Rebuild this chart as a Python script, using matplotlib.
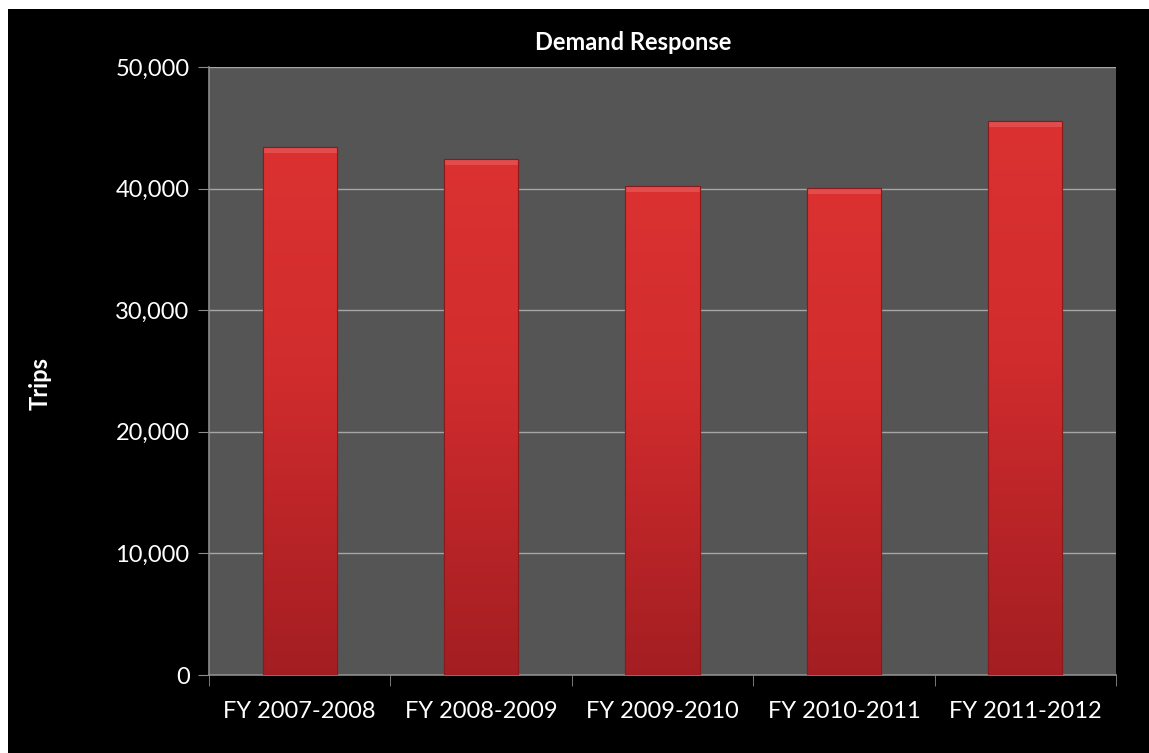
import matplotlib.pyplot as plt
import numpy as np
from matplotlib.patches import Rectangle
from matplotlib.ticker import FuncFormatter, FixedLocator

years = ['FY 2007-2008', 'FY 2008-2009', 'FY 2009-2010', 'FY 2010-2011', 'FY 2011-2012']
trips = [43420, 42430, 40210, 40050, 45560]
yticks = [0, 10000, 20000, 30000, 40000, 50000]

plt.rcParams['font.family'] = ['Lato', 'DejaVu Sans']

fig = plt.figure(figsize=(11.49, 7.53), dpi=100)
fig.patch.set_facecolor('white')
# black slide panel (small white margin on left and top)
fig.add_artist(Rectangle((8 / 1149, 0), 1, 1 - 9 / 753, transform=fig.transFigure,
                         facecolor='black', edgecolor='none', zorder=0))

ax = fig.add_axes([209 / 1149, 1 - 675 / 753, (1116 - 209) / 1149, (675 - 67) / 753])
ax.set_facecolor('#555555')

x = np.arange(len(years))
bars = ax.bar(x, trips, width=0.41, color='#c42628', edgecolor='#8a1a1c', linewidth=0.8, zorder=3)

# vertical gradient on each bar: darker red at the bottom, bright red for the upper part
grad = np.linspace(0, 1, 256).reshape(-1, 1)
cmap = plt.matplotlib.colors.LinearSegmentedColormap.from_list(
    'redgrad', [(0, '#a31e22'), (0.35, '#bf2629'), (0.6, '#d22d2e'), (1, '#db3131')])
for b in bars:
    x0, w, h = b.get_x(), b.get_width(), b.get_height()
    im = ax.imshow(grad, extent=(x0, x0 + w, 0, h), origin='lower', cmap=cmap,
                   aspect='auto', zorder=4)
    im.set_clip_path(b)
    # light highlight strip at the top
    ax.add_patch(Rectangle((x0, h - 500), w, 450, facecolor='#e86060', edgecolor='none',
                           alpha=0.6, zorder=5))
    ax.add_patch(Rectangle((x0, 0), w, h, facecolor='none', edgecolor='#8a1a1c',
                           linewidth=0.8, zorder=6))

ax.set_xlim(-0.5, len(years) - 0.5)
ax.set_ylim(0, 50000)
ax.set_yticks(yticks)
ax.yaxis.set_major_formatter(FuncFormatter(lambda v, p: f'{int(v):,}'))
ax.grid(axis='y', color='#a6a6a6', linewidth=1, zorder=1)

ax.set_xticks(x)
ax.set_xticklabels(years)
ax.xaxis.set_minor_locator(FixedLocator(np.arange(-0.5, len(years), 1)))
ax.tick_params(axis='x', which='major', length=0, pad=19, labelsize=17, labelcolor='white')
ax.tick_params(axis='x', which='minor', length=8, color='#8c8c8c', direction='out')
ax.tick_params(axis='y', length=8, color='#8c8c8c', pad=6, labelsize=17, labelcolor='white')

for s in ['top', 'right']:
    ax.spines[s].set_visible(False)
for s in ['left', 'bottom']:
    ax.spines[s].set_color('#8c8c8c')
    ax.spines[s].set_linewidth(1.2)

fig.text(633 / 1149, 1 - 42 / 753, 'Demand Response', color='white', fontsize=17,
         fontweight='bold', ha='center', va='center')
fig.text(40 / 1149, 1 - 383 / 753, 'Trips', color='white', fontsize=17,
         fontweight='bold', ha='center', va='center', rotation=90)

fig.savefig('out.png', dpi=100, facecolor=fig.get_facecolor())
